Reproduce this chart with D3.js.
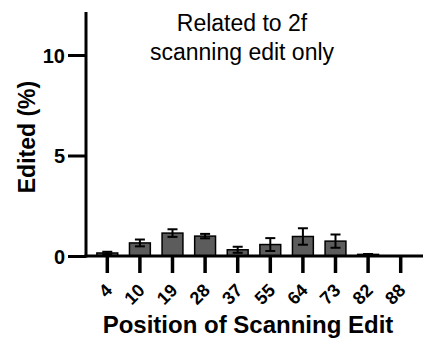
<!DOCTYPE html>
<html>
<head>
<meta charset="utf-8">
<script src="https://cdn.jsdelivr.net/npm/d3@7"></script>
<style>
  body { margin: 0; background: #fff; }
  svg { display: block; font-family: "Liberation Sans", Arial, sans-serif; }
</style>
</head>
<body>
<div id="chart"></div>
<script>
///// DATA /////
const positions = ["4", "10", "19", "28", "37", "55", "64", "73", "82", "88"];
const editedMean = [0.15, 0.65, 1.14, 0.99, 0.31, 0.57, 0.97, 0.74, 0.08, 0];
const editedSD = [0.06, 0.17, 0.19, 0.11, 0.15, 0.32, 0.41, 0.33, 0.02, 0];
const yTicks = [0, 5, 10];

///// CHART /////
const width = 423;
const height = 344;

const svg = d3.select("#chart").append("svg")
    .attr("width", width)
    .attr("height", height);

const x = d3.scaleBand()
    .domain(positions)
    .range([91, 417])
    .paddingInner(0.36)
    .paddingOuter(0.18);

const y = d3.scaleLinear()
    .domain([0, 10])
    .range([256, 55]);

const axisLeft = 86;

// bars
svg.append("g")
    .selectAll("rect")
    .data(positions)
    .join("rect")
    .attr("x", d => x(d))
    .attr("y", (d, i) => y(editedMean[i]))
    .attr("width", x.bandwidth())
    .attr("height", (d, i) => y(0) - y(editedMean[i]))
    .attr("fill", "#5c5c5c")
    .attr("stroke", "#000")
    .attr("stroke-width", 1.5);

// error bars (mean ± SD)
const err = svg.append("g")
    .attr("stroke", "#000")
    .attr("stroke-width", 2);

positions.forEach((p, i) => {
    if (editedSD[i] === 0) return;
    const cx = x(p) + x.bandwidth() / 2;
    const hi = y(editedMean[i] + editedSD[i]);
    const lo = y(Math.max(0, editedMean[i] - editedSD[i]));
    err.append("line").attr("x1", cx).attr("x2", cx).attr("y1", hi).attr("y2", lo);
    err.append("line").attr("x1", cx - 5).attr("x2", cx + 5).attr("y1", hi).attr("y2", hi);
    err.append("line").attr("x1", cx - 5).attr("x2", cx + 5).attr("y1", lo).attr("y2", lo);
});

// y axis
const gy = svg.append("g")
    .attr("transform", `translate(${axisLeft},0)`)
    .call(d3.axisLeft(y).tickValues(yTicks).tickSize(18).tickPadding(3).tickFormat(d3.format("d")));
gy.select(".domain").remove();
gy.selectAll(".tick line").attr("stroke", "#000").attr("stroke-width", 3);
gy.selectAll(".tick text")
    .attr("fill", "#000")
    .style("font-size", "20px")
    .style("font-weight", "bold")
    .attr("dy", "0.36em");
gy.append("line")
    .attr("x1", 0).attr("x2", 0)
    .attr("y1", 12).attr("y2", y(0) + 1.5)
    .attr("stroke", "#000")
    .attr("stroke-width", 3);

// x axis
const gx = svg.append("g")
    .attr("transform", `translate(0,${y(0)})`)
    .call(d3.axisBottom(x).tickSize(17).tickPadding(4));
gx.select(".domain").remove();
gx.selectAll(".tick line").attr("stroke", "#000").attr("stroke-width", 3.5);
gx.selectAll(".tick text")
    .attr("fill", "#000")
    .style("font-size", "18px")
    .style("font-weight", "bold")
    .attr("text-anchor", "end")
    .attr("transform", "translate(1.5,31) rotate(-45)")
    .attr("dy", "0.35em")
    .attr("y", 0);
gx.append("line")
    .attr("x1", axisLeft - 1.5).attr("x2", width)
    .attr("y1", 0).attr("y2", 0)
    .attr("stroke", "#000")
    .attr("stroke-width", 3);

// axis titles
svg.append("text")
    .attr("x", 248)
    .attr("y", 333)
    .attr("text-anchor", "middle")
    .style("font-size", "24px")
    .style("font-weight", "bold")
    .text("Position of Scanning Edit");

svg.append("text")
    .attr("transform", "translate(35,137) rotate(-90)")
    .attr("text-anchor", "middle")
    .style("font-size", "23px")
    .style("font-weight", "bold")
    .text("Edited (%)");

// title
const title = svg.append("text")
    .attr("text-anchor", "middle")
    .style("font-size", "23px");
title.append("tspan").attr("x", 242).attr("y", 31).text("Related to 2f");
title.append("tspan").attr("x", 242).attr("y", 60).text("scanning edit only");
</script>
</body>
</html>
